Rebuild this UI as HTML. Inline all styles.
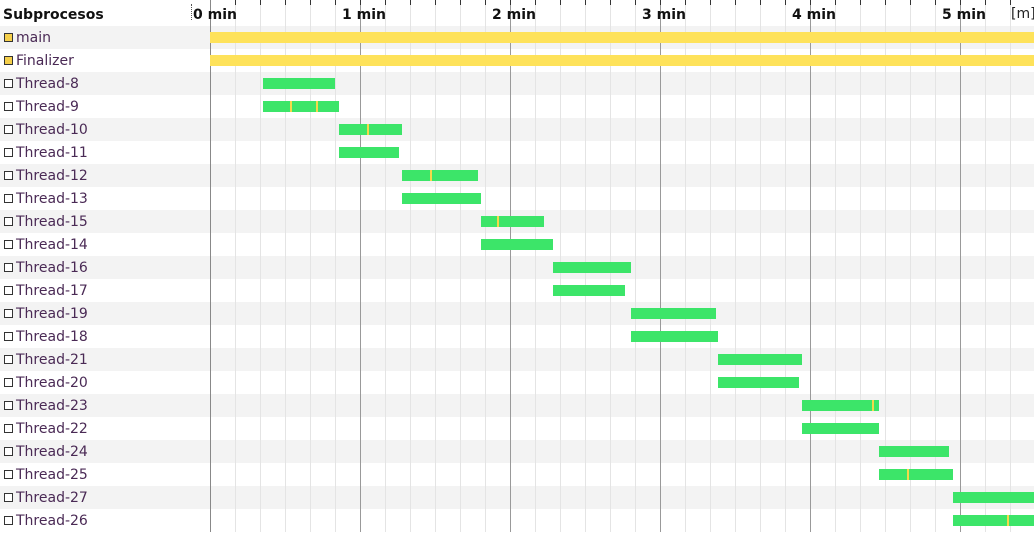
<!DOCTYPE html>
<html><head><meta charset="utf-8"><style>
body{margin:0;width:1034px;height:532px;overflow:hidden;background:#fff;font-family:"DejaVu Sans","Liberation Sans",sans-serif;position:relative}
div{position:absolute;box-sizing:border-box}
.row{left:0;width:1034px;height:23px}
.g{background:#f3f3f3}
.lab{left:16px;font-size:14px;color:#4a2a55;line-height:23px;margin-top:1px}
.ic{left:4px;width:9px;height:9px;border:1px solid #333;background:#fff}
.ic.y{background:#f5cf4a}
.v{top:0;width:1px;height:532px;background:#e4e4e4}
.V{top:0;width:1px;height:532px;background:#999}
.t{top:0;width:1px;height:5px;background:#333}
.b{height:11px;background:#3ce569}
.b.y{background:#fee25a}
.m{top:0;width:2px;height:11px;background:#f5d94a}
.h{top:7px;font-size:14px;font-weight:bold;color:#111}
</style></head><body>
<div id="rows"></div>
<script>
(function(){
var names=["main","Finalizer","Thread-8","Thread-9","Thread-10","Thread-11","Thread-12","Thread-13","Thread-15","Thread-14","Thread-16","Thread-17","Thread-19","Thread-18","Thread-21","Thread-20","Thread-23","Thread-22","Thread-24","Thread-25","Thread-27","Thread-26"];
var bars=[[210,1034],[210,1034],[263,335],[263,339,290,316],[339,402,367],[339,399],[402,478,430],[402,481],[481,544,497],[481,553],[553,631],[553,625],[631,716],[631,718],[718,802],[718,799],[802,879,872],[802,879],[879,949],[879,953,907],[953,1034],[953,1034,1007]];
var h='',i,yy,x,k,j,b;
for(i=0;i<22;i++){yy=26+23*i;
 h+='<div class="row'+(i%2==0?' g':'')+'" style="top:'+yy+'px"></div>';}
for(x=235;x<1034;x+=25){var major=((x-210)%150==0);
 h+='<div class="'+(major?'V':'v')+'" style="left:'+x+'px"></div><div class="t" style="left:'+x+'px"></div>';}
h+='<div class="V" style="left:210px;background:#888"></div>';
h+='<div class="h" style="left:3px">Subprocesos</div>';
h+='<div style="left:191px;top:4px;width:1px;height:16px;border-left:1px dotted #555"></div>';
var L=["0 min","1 min","2 min","3 min","4 min","5 min"];
for(k=0;k<6;k++)h+='<div class="h" style="left:'+(k==0?193:(210+150*k-18))+'px">'+L[k]+'</div>';
h+='<div style="left:1011px;top:6px;font-size:14px;color:#222">[m]</div>';
for(i=0;i<22;i++){yy=26+23*i;b=bars[i];
 h+='<div class="ic'+(i<2?' y':'')+'" style="top:'+(yy+7)+'px"></div>';
 h+='<div class="lab" style="top:'+yy+'px">'+names[i]+'</div>';
 var inner='';for(j=2;j<b.length;j++)inner+='<div class="m" style="left:'+(b[j]-b[0])+'px"></div>';
 h+='<div class="b'+(i<2?' y':'')+'" style="top:'+(yy+6)+'px;left:'+b[0]+'px;width:'+(b[1]-b[0])+'px">'+inner+'</div>';}
document.getElementById('rows').outerHTML=h;
})();
</script>
</body></html>
